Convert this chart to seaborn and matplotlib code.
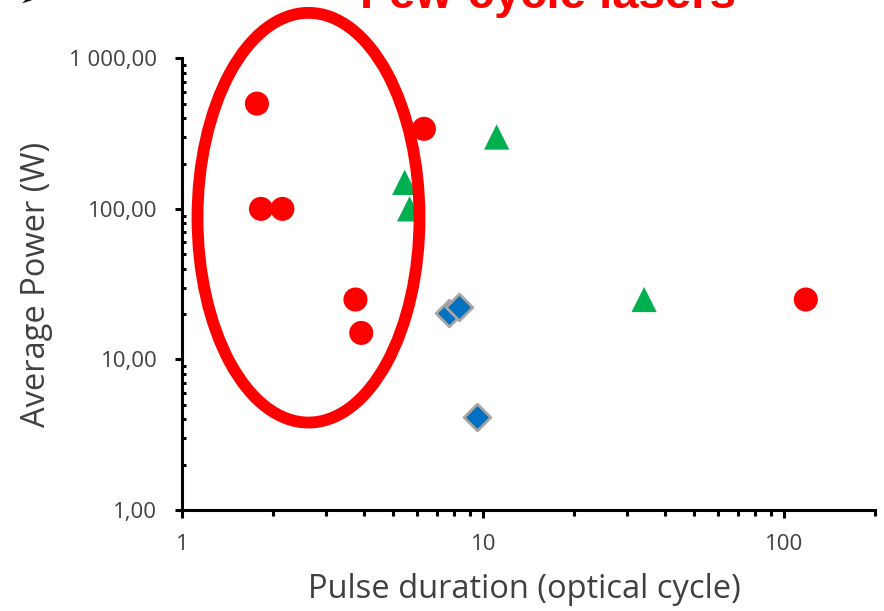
import matplotlib
matplotlib.use("Agg")
import matplotlib.pyplot as plt
from matplotlib.patches import Ellipse
from matplotlib.ticker import FixedLocator, FixedFormatter, LogLocator, NullFormatter
import seaborn as sns
import pandas as pd

# ---- data ----
circle_x = [1.77, 1.825, 2.15, 3.76, 3.93, 6.35, 117.8]
circle_y = [500, 100, 100, 25, 15, 340, 25]
triangle_x = [5.48, 5.69, 11.07, 34.2]
triangle_y = [150, 100, 300, 25]
diamond_x = [7.67, 8.28, 9.51]
diamond_y = [20.3, 22.3, 4.15]

x_ticks = [1, 10, 100]
x_tick_labels = ["1", "10", "100"]
y_ticks = [1, 10, 100, 1000]
y_tick_labels = ["1,00", "10,00", "100,00", "1 000,00"]

title = "Few-cycle lasers"
x_label = "Pulse duration (optical cycle)"
y_label = "Average Power (W)"

sns.set_theme(style="white")
plt.rcParams['font.family'] = ['Open Sans', 'DejaVu Sans']

W, H = 884, 611
fig = plt.figure(figsize=(W / 100, H / 100), dpi=100)
ax = fig.add_axes([182.3 / W, (H - 510) / H, (875 - 182.3) / W, (510 - 58.3) / H])

df_d = pd.DataFrame({"x": diamond_x, "y": diamond_y})
df_c = pd.DataFrame({"x": circle_x, "y": circle_y})
df_t = pd.DataFrame({"x": triangle_x, "y": triangle_y})

sns.scatterplot(data=df_d, x="x", y="y", ax=ax, marker="D", s=185,
                color="#0070C0", edgecolor="#A6A6A6", linewidth=2.0, zorder=3)
sns.scatterplot(data=df_t, x="x", y="y", ax=ax, marker="^", s=330,
                color="#00B050", edgecolor="none", linewidth=0, zorder=3)
sns.scatterplot(data=df_c, x="x", y="y", ax=ax, marker="o", s=300,
                color="#FF0000", edgecolor="none", linewidth=0, zorder=3)

ax.set_xscale("log")
ax.set_yscale("log")
ax.set_xlim(1, 200)
ax.set_ylim(1, 1000)

ax.xaxis.set_major_locator(FixedLocator(x_ticks))
ax.xaxis.set_major_formatter(FixedFormatter(x_tick_labels))
ax.yaxis.set_major_locator(FixedLocator(y_ticks))
ax.yaxis.set_major_formatter(FixedFormatter(y_tick_labels))
ax.xaxis.set_minor_locator(LogLocator(base=10, subs=range(2, 10), numticks=20))
ax.yaxis.set_minor_locator(LogLocator(base=10, subs=range(2, 10), numticks=20))
ax.xaxis.set_minor_formatter(NullFormatter())
ax.yaxis.set_minor_formatter(NullFormatter())

for s in ["top", "right"]:
    ax.spines[s].set_visible(False)
for s in ["left", "bottom"]:
    ax.spines[s].set_color("black")
    ax.spines[s].set_linewidth(2.2)

ax.tick_params(axis="x", which="major", direction="out", length=6, width=2.2,
               color="black", labelsize=16, labelcolor="#404040", pad=11, bottom=True)
ax.tick_params(axis="x", which="minor", direction="out", length=4, width=2.2,
               color="black", bottom=True)
ax.tick_params(axis="y", which="major", direction="out", length=5, width=2.2,
               color="black", labelsize=16, labelcolor="#404040", pad=13, left=True)
ax.tick_params(axis="y", which="minor", direction="in", length=3, width=2.2,
               color="black", left=True)

ax.set_xlabel(x_label, fontsize=23.5, color="#404040", va="center")
ax.xaxis.set_label_coords((524.5 - 182.3) / 692.7, (510 - 589) / 451.7)
ax.set_ylabel(y_label, fontsize=23.5, color="#404040", va="center")
ax.yaxis.set_label_coords((37 - 182.3) / 692.7, (510 - 284) / 451.7)

ell = Ellipse(((308.5 - 182.3) / 692.7, (510 - 217.7) / 451.7),
              width=222 / 692.7, height=409.7 / 451.7, transform=ax.transAxes,
              fill=False, edgecolor="#FF0000", linewidth=8.5, clip_on=False, zorder=5)
ax.add_patch(ell)

fig.text(548 / W, 1 - 8.5 / H, title, color="#FF0000", fontweight="bold",
         fontsize=34, ha="center", va="baseline", family=["Liberation Sans", "DejaVu Sans"])
fig.text(31 / W, 1 - 7 / H, "➢", color="black", fontsize=20, ha="center",
         va="baseline", family=["DejaVu Sans"])

fig.savefig("out.png", dpi=100)
